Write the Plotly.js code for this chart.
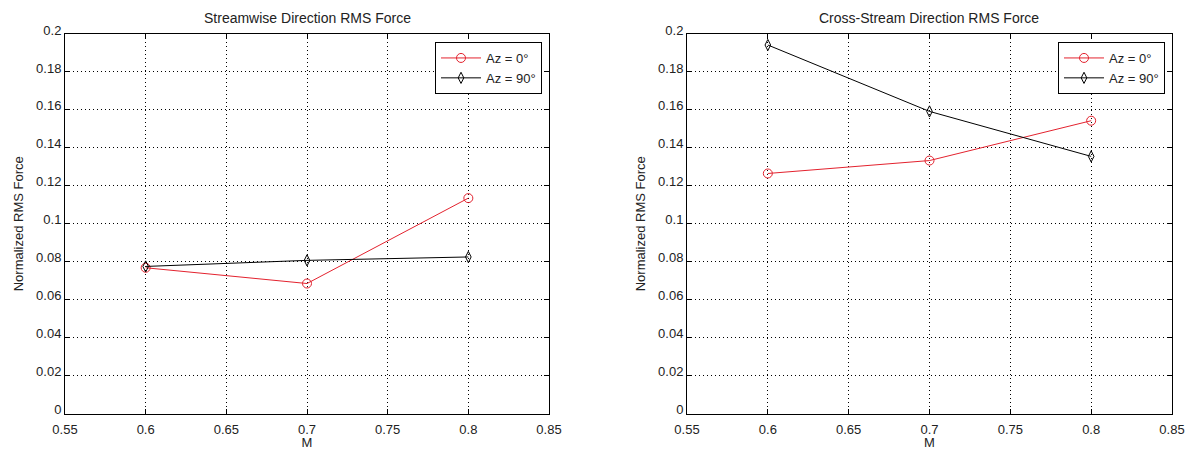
<!DOCTYPE html>
<html>
<head>
<meta charset="utf-8">
<script src="https://cdn.plot.ly/plotly-3.0.1.min.js"></script>
<style>html,body{margin:0;padding:0;background:#fff;}#chart{width:1189px;height:450px;}</style>
</head>
<body>
<div id="chart"></div>
<script>
// ---- data ----
const machNumbers = [0.6, 0.7, 0.8];
const streamAz0 = [0.0768, 0.0685, 0.1135];
const streamAz90 = [0.0775, 0.0807, 0.0825];
const crossAz0 = [0.1265, 0.1333, 0.1543];
const crossAz90 = [0.1942, 0.1592, 0.1355];
const seriesNames = ["Az = 0°", "Az = 90°"];
const plotTitles = ["Streamwise Direction RMS Force", "Cross-Stream Direction RMS Force"];
const xTitle = "M";
const yTitle = "Normalized RMS Force";

const FONT = "Liberation Sans, Arial, sans-serif";
const RED = "#e3222e";
const TXT = "#222";

function trace(x, y, name, color, symbol, size, xa, ya, legend) {
  return {
    x: x, y: y, name: name, type: "scatter", mode: "lines+markers",
    xaxis: xa, yaxis: ya, legend: legend,
    line: {color: color, width: 1},
    marker: {symbol: symbol, size: size, color: color, line: {color: color, width: 1}},
    hoverinfo: "skip"
  };
}

const data = [
  trace(machNumbers, streamAz0, seriesNames[0], RED, "circle-open", 9, "x", "y", "legend"),
  trace(machNumbers, streamAz90, seriesNames[1], "#000", "diamond-tall-open", 8, "x", "y", "legend"),
  trace(machNumbers, crossAz0, seriesNames[0], RED, "circle-open", 9, "x2", "y2", "legend2"),
  trace(machNumbers, crossAz90, seriesNames[1], "#000", "diamond-tall-open", 8, "x2", "y2", "legend2")
];

function xaxis(domain, anchor) {
  return {
    domain: domain, anchor: anchor, range: [0.55, 0.85], dtick: 0.05, tick0: 0.55,
    showgrid: true, gridcolor: "#000", griddash: "1px,3px", gridwidth: 1,
    zeroline: false, showline: true, linecolor: "#000", linewidth: 1, mirror: "allticks",
    ticks: "inside", ticklen: 5, tickcolor: "#000", automargin: false,
    ticklabelstandoff: 4,
    tickfont: {family: FONT, size: 13, color: TXT},
    title: {text: xTitle, font: {family: FONT, size: 13, color: TXT}, standoff: 0}
  };
}
function yaxis(domain, anchor) {
  return {
    domain: domain, anchor: anchor, range: [0, 0.2], dtick: 0.02, tick0: 0,
    showgrid: true, gridcolor: "#000", griddash: "1px,3px", gridwidth: 1,
    zeroline: false, showline: true, linecolor: "#000", linewidth: 1, mirror: "allticks",
    ticks: "inside", ticklen: 5, tickcolor: "#000", automargin: false,
    ticklabelshift: -4,
    tickfont: {family: FONT, size: 13, color: TXT},
    title: {text: yTitle, font: {family: FONT, size: 13, color: TXT}, standoff: 9}
  };
}

const yDom = [1 - 413.5 / 450, 1 - 34 / 450];
function legendCfg(xRight) {
  return {
    x: xRight, y: 1 - 42 / 450, xanchor: "right", yanchor: "top", xref: "paper", yref: "paper",
    bgcolor: "#fff", bordercolor: "#000", borderwidth: 1,
    font: {family: FONT, size: 13, color: TXT}, itemwidth: 40, tracegroupgap: 0
  };
}

const layout = {
  width: 1189, height: 450, autosize: false,
  margin: {l: 0, r: 0, t: 0, b: 0, pad: 0},
  paper_bgcolor: "#fff", plot_bgcolor: "#fff",
  showlegend: true,
  xaxis: xaxis([65 / 1189, 549 / 1189], "y"),
  yaxis: yaxis(yDom, "x"),
  xaxis2: xaxis([687 / 1189, 1172 / 1189], "y2"),
  yaxis2: yaxis(yDom, "x2"),
  legend: legendCfg(542 / 1189),
  legend2: legendCfg(1165 / 1189),
  annotations: [
    {text: plotTitles[0], xref: "paper", yref: "paper", x: 307 / 1189, y: 1 - 18 / 450,
     xanchor: "center", yanchor: "middle", showarrow: false, font: {family: FONT, size: 14, color: TXT}},
    {text: plotTitles[1], xref: "paper", yref: "paper", x: 929 / 1189, y: 1 - 18 / 450,
     xanchor: "center", yanchor: "middle", showarrow: false, font: {family: FONT, size: 14, color: TXT}}
  ]
};

Plotly.newPlot("chart", data, layout, {staticPlot: true, displayModeBar: false});
</script>
</body>
</html>
